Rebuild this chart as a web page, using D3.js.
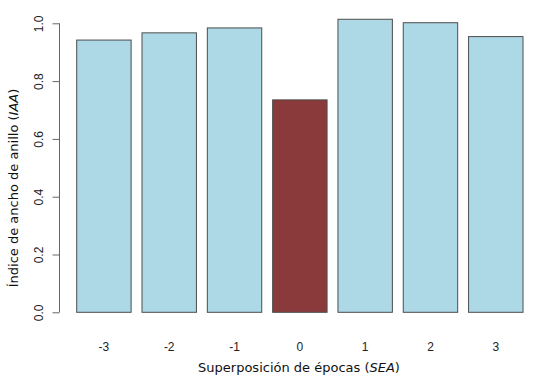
<!DOCTYPE html>
<html>
<head>
<meta charset="utf-8">
<script src="https://cdn.jsdelivr.net/npm/d3@7"></script>
<style>
  body { margin: 0; background: #fff; }
</style>
</head>
<body>
<div id="container"></div>
<script>
const lags = ["-3", "-2", "-1", "0", "1", "2", "3"];
const iaa = [0.942, 0.967, 0.984, 0.735, 1.014, 1.002, 0.954];
const yTicks = [0, 0.2, 0.4, 0.6, 0.8, 1.0];

const w = 537;
const h = 379;
const svg = d3.select("#container").append("svg")
  .attr("width", w).attr("height", h);

// R barplot style: gap = 0.2 * bar width
const x = d3.scaleBand()
  .domain(lags)
  .range([76.7, 523])
  .paddingInner(0.2 / 1.2)
  .paddingOuter(0);

const y = d3.scaleLinear()
  .domain([0, 1])
  .range([312.3, 23.3]);

// bars
svg.selectAll("rect.bar").data(lags).enter().append("rect")
  .attr("class", "bar")
  .attr("x", (d) => x(d))
  .attr("y", (d, i) => y(iaa[i]))
  .attr("width", x.bandwidth())
  .attr("height", (d, i) => y(0) - y(iaa[i]))
  .attr("fill", (d) => d === "0" ? "#8b3a3b" : "#add8e6")
  .attr("stroke", "#4d4d4d")
  .attr("stroke-width", 1);

// y axis
const yAxis = d3.axisLeft(y).tickValues(yTicks).tickSize(7)
  .tickFormat(d3.format(".1f"));
const yg = svg.append("g")
  .attr("transform", "translate(59.5,0)")
  .call(yAxis);
yg.select(".domain").attr("d", "M0," + y(0) + "V" + y(1)).attr("stroke", "#666");
yg.selectAll(".tick line").attr("stroke", "#666");
yg.selectAll(".tick text")
  .attr("x", 0).attr("y", 0)
  .attr("transform", "translate(-21,0) rotate(-90)")
  .attr("text-anchor", "middle")
  .attr("dy", "0.35em")
  .attr("fill", "#222")
  .style("font-family", "Liberation Sans, Arial, sans-serif")
  .style("font-size", "12px");

// x tick labels
svg.append("g").selectAll("text").data(lags).enter().append("text")
  .attr("x", (d) => x(d) + x.bandwidth() / 2)
  .attr("y", 351)
  .attr("text-anchor", "middle")
  .attr("fill", "#222")
  .style("font-family", "Liberation Sans, Arial, sans-serif")
  .style("font-size", "12px")
  .text((d) => d);

// axis titles
const xt = svg.append("text")
  .attr("x", 299)
  .attr("y", 372)
  .attr("text-anchor", "middle")
  .attr("fill", "#111")
  .style("font-family", "DejaVu Sans, Verdana, sans-serif")
  .style("font-size", "13px");
xt.append("tspan").text("Superposición de épocas (");
xt.append("tspan").style("font-style", "italic").text("SEA");
xt.append("tspan").text(")");

const yt = svg.append("text")
  .attr("transform", "translate(18,188) rotate(-90)")
  .attr("text-anchor", "middle")
  .attr("fill", "#111")
  .style("font-family", "DejaVu Sans, Verdana, sans-serif")
  .style("font-size", "13px");
yt.append("tspan").text("Índice de ancho de anillo (");
yt.append("tspan").style("font-style", "italic").text("IAA");
yt.append("tspan").text(")");
</script>
</body>
</html>
